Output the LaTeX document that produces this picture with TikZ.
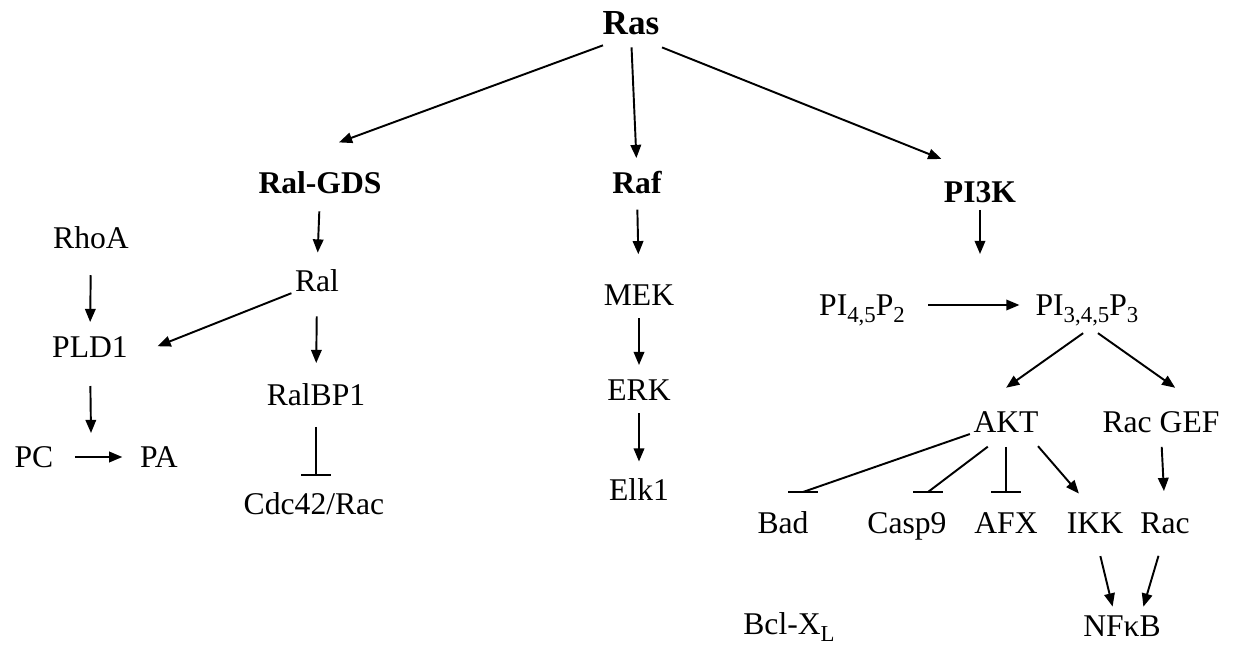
\documentclass[tikz,border=0pt]{standalone}
\usepackage{fontspec}
\setmainfont{Liberation Serif}
\usetikzlibrary{arrows.meta}
\newcommand{\lowsub}[1]{\raisebox{-4pt}{\fontsize{13}{13}\selectfont #1}}

\begin{document}
\begin{tikzpicture}[x=0.02cm,y=-0.02cm,
    every node/.style={inner sep=0pt,text height=12pt,text depth=0pt,font=\fontsize{18}{21}\selectfont},
    head/.style={font=\fontsize{18}{21}\selectfont\bfseries},
    act/.style={line width=1.1pt,-{Triangle[length=7.5pt,width=6pt]},shorten <=10pt,shorten >=10pt},
    inh/.style={line width=1.1pt,-,shorten <=10pt},
    bar/.style={line width=1.1pt}]
  \useasboundingbox (0,0) rectangle (1234,645);
  % Ras and its three effectors
  \node[head,font=\fontsize{20}{24}\selectfont\bfseries,text height=13.3pt] (ras) at (631,23) {Ras};
  \node[head] (ralgds) at (320,183) {Ral-GDS};
  \node[head] (raf) at (637,183) {Raf};
  \node[head] (pik) at (980,192) {PI3K};
  % Ral branch
  \node (rhoa) at (91,238) {RhoA};
  \node (ral) at (317,281) {Ral};
  \node (pld) at (90,347) {PLD1};
  \node (ralbp) at (316,395) {RalBP1};
  \node (pc) at (34,457) {PC};
  \node (pa) at (159,457) {PA};
  \node (cdc) at (314,504) {Cdc42/Rac};
  % MAPK branch
  \node (mek) at (639,295) {MEK};
  \node (erk) at (639,390) {ERK};
  \node (elk) at (639,490) {Elk1};
  % PI3K branch
  \node (pip2) at (862,305) {PI\lowsub{4,5}P\lowsub{2}};
  \node (pip3) at (1087,305) {PI\lowsub{3,4,5}P\lowsub{3}};
  \node (akt) at (1006,422) {AKT};
  \node (racgef) at (1161,422) {Rac GEF};
  \node (bad) at (783,523) {Bad};
  \node (casp) at (907,523) {Casp9};
  \node (afx) at (1006,523) {AFX};
  \node (ikk) at (1095,523) {IKK};
  \node (rac) at (1165,523) {Rac};
  \node (nfkb) at (1122,626) {NFκB};
  \node (bcl) at (789,624) {Bcl-X\lowsub{L}};
  \coordinate (pirxn) at (980,254);
  \coordinate (pcrxn) at (91,433);
  \coordinate (cdcbar) at (316,475);
  \coordinate (badbar) at (803,492);
  \coordinate (caspbar) at (928,492);
  \coordinate (afxbar) at (1006,492);
  \path[act]
    (ras.south) edge[shorten <=17pt,shorten >=49pt] (ralgds.north west)
    (ras.south) edge[shorten <=7pt,shorten >=8pt] (raf.north)
    (ras.south) edge[shorten <=19pt,shorten >=34pt] (pik.33)
    (ralgds.south) edge (ral.north)
    (raf.south) edge[shorten <=9pt,shorten >=17pt] (mek.north)
    (pik.south) edge[shorten <=4pt,shorten >=0pt] (pirxn)
    (rhoa.south) edge[shorten <=15pt,shorten >=8pt] (pld.north)
    (ral.south west) edge[shorten <=2pt,shorten >=18pt] (pld.south east)
    (ral.south) edge[shorten <=14pt,shorten >=12pt] (ralbp.north)
    (pld.south) edge[shorten <=16pt,shorten >=0pt] (pcrxn)
    (pc.east) edge[shorten <=12pt] (pa.west)
    (mek.south) edge[shorten <=7pt,shorten >=8pt] (erk.north)
    (erk.south) edge[shorten <=7pt] (elk.north)
    (pip2.east) edge[shorten <=13pt,shorten >=9pt] (pip3.west)
    (pip3.-28) edge[shorten <=17pt,shorten >=23pt] (akt.north west)
    (pip3.-141) edge[shorten <=17pt,shorten >=23pt] (racgef.13)
    (akt.-28) edge[shorten >=14pt] (ikk.north)
    (racgef.south) edge[shorten <=8pt,shorten >=12pt] (rac.north)
    (ikk.south) edge[shorten <=13pt,shorten >=5pt] (nfkb.124)
    (rac.south) edge[shorten <=13pt,shorten >=5pt] (nfkb.30);
  \path[inh]
    (ralbp.south) edge[shorten <=12pt] (cdcbar)
    (akt.south west) edge[shorten <=2pt] (badbar)
    (akt.south) edge[shorten <=13pt] (caspbar)
    (akt.south) edge[shorten <=8pt] (afxbar);
  \foreach \b in {cdcbar,badbar,caspbar,afxbar}
    \draw[bar] (\b) +(-15,0) -- +(15,0);
\end{tikzpicture}
\end{document}
